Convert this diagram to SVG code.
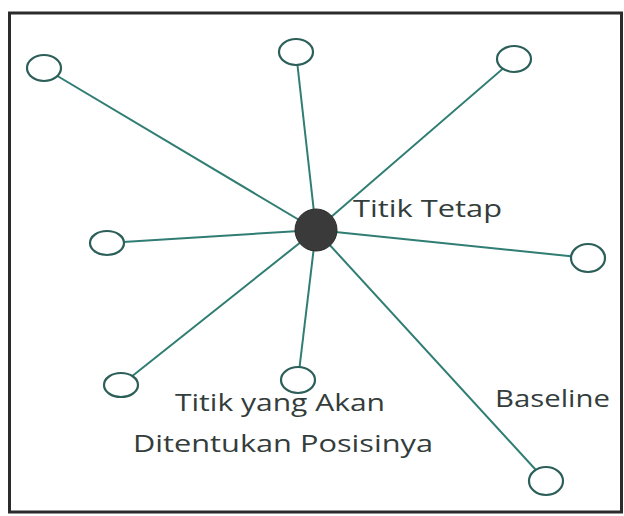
<svg xmlns="http://www.w3.org/2000/svg" width="624" height="516" viewBox="0 0 624 516">
  <style>
    .frame { fill: none; stroke: #2b2b2b; stroke-width: 3; }
    .spoke { stroke: #2f7d73; stroke-width: 2; }
    .pt { fill: #ffffff; stroke: #2c5f59; stroke-width: 2.2; }
    .hub { fill: #3a3a3a; stroke: #2a2a2a; stroke-width: 1; }
    .lbl { font-family: "Open Sans", "Noto Sans", sans-serif; font-size: 23.5px; fill: #333d3c; }
  </style>
  <rect x="0" y="0" width="624" height="516" fill="#ffffff"/>
  <rect class="frame" x="9.5" y="13" width="612" height="499"/>

  <!-- spokes from the fixed point to each surveyed point -->
  <g id="connectors">
    <line class="spoke" x1="316" y1="230" x2="44" y2="68"/>
    <line class="spoke" x1="316" y1="230" x2="296" y2="52"/>
    <line class="spoke" x1="316" y1="230" x2="514" y2="59"/>
    <line class="spoke" x1="316" y1="230" x2="107" y2="243"/>
    <line class="spoke" x1="316" y1="230" x2="588" y2="258"/>
    <line class="spoke" x1="316" y1="230" x2="121" y2="385"/>
    <line class="spoke" x1="316" y1="230" x2="298" y2="380"/>
    <line class="spoke" x1="316" y1="230" x2="546" y2="481"/>
  </g>

  <g id="p-top-left"><ellipse class="pt" cx="44" cy="68" rx="17" ry="13"/></g>
  <g id="p-top"><ellipse class="pt" cx="296" cy="52" rx="17" ry="13"/></g>
  <g id="p-top-right"><ellipse class="pt" cx="514" cy="59" rx="17" ry="13"/></g>
  <g id="p-left"><ellipse class="pt" cx="107" cy="243" rx="17" ry="12"/></g>
  <g id="p-right"><ellipse class="pt" cx="588" cy="258" rx="17" ry="14"/></g>
  <g id="p-bottom-left"><ellipse class="pt" cx="121" cy="385" rx="17" ry="12"/></g>
  <g id="p-bottom"><ellipse class="pt" cx="298" cy="380" rx="17" ry="13"/></g>
  <g id="p-bottom-right"><ellipse class="pt" cx="546" cy="481" rx="17" ry="14"/></g>

  <g id="titik-tetap">
    <circle class="hub" cx="316" cy="230" r="21"/>
    <text class="lbl" x="353" y="217" textLength="149" lengthAdjust="spacingAndGlyphs">Titik Tetap</text>
  </g>

  <g id="label-titik-akan">
    <text class="lbl" x="175" y="411" textLength="210" lengthAdjust="spacingAndGlyphs">Titik yang Akan</text>
    <text class="lbl" x="133" y="452" textLength="300" lengthAdjust="spacingAndGlyphs">Ditentukan Posisinya</text>
  </g>

  <g id="label-baseline">
    <text class="lbl" x="495" y="407" textLength="115" lengthAdjust="spacingAndGlyphs">Baseline</text>
  </g>
</svg>
